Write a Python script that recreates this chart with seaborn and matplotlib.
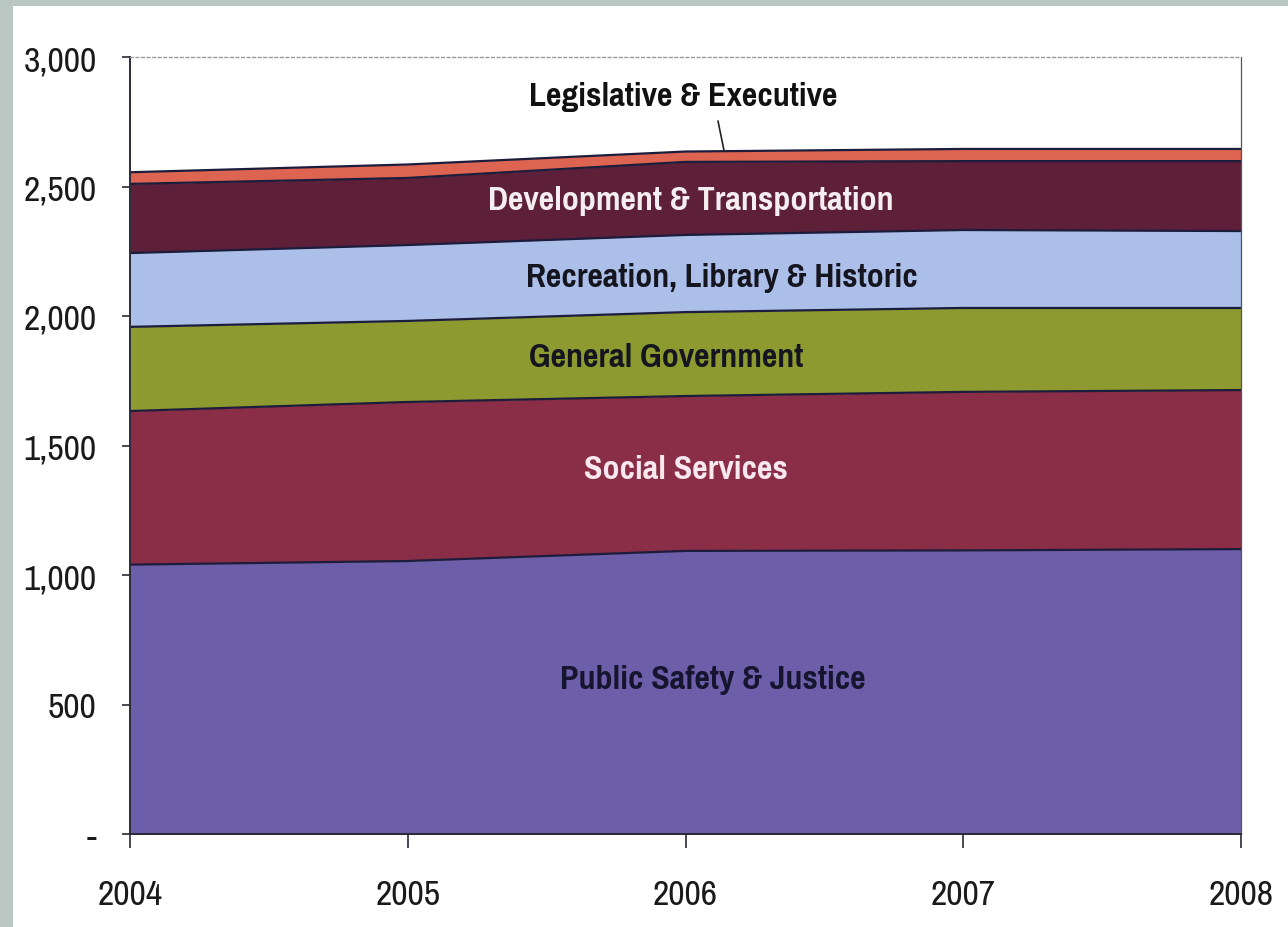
import matplotlib
matplotlib.use("Agg")
import matplotlib.pyplot as plt
import matplotlib.patches as mpatches
from matplotlib import font_manager as fm
from matplotlib.ticker import FuncFormatter
import numpy as np
import pandas as pd
import seaborn as sns

# Annual spending by function (stacked, bottom to top)
years = [2004, 2005, 2006, 2007, 2008]
public_safety = [1040, 1054, 1093, 1095, 1100]
social_services = [593, 614, 598, 612, 614]
general_government = [325, 313, 324, 324, 317]
recreation = [285, 293, 298, 301, 297]
development = [267, 259, 282, 266, 270]
legislative = [45, 52, 40, 47, 47]

categories = [
    "Public Safety & Justice",
    "Social Services",
    "General Government",
    "Recreation, Library & Historic",
    "Development & Transportation",
    "Legislative & Executive",
]
series = [public_safety, social_services, general_government,
          recreation, development, legislative]
colors = ["#6c5ea8", "#8a2d46", "#8c9a30", "#abbfe8", "#5e2039", "#dc6450"]

y_ticks = [0, 500, 1000, 1500, 2000, 2500, 3000]

# pick a narrow sans family, similar to Arial Narrow
narrow_candidates = ["Liberation Sans Narrow", "Arial Narrow", "Pragati Narrow",
                     "Roboto Condensed", "PT Sans Narrow", "Archivo Narrow",
                     "Open Sans Condensed", "Fira Sans Condensed",
                     "IBM Plex Sans Condensed", "Asap Condensed",
                     "Encode Sans Condensed", "Sofia Sans Condensed"]
entries = fm.fontManager.ttflist
font_family = "Liberation Sans"
for cand in narrow_candidates:
    found = [f for f in entries if f.name == cand]
    if found and any(f.weight in (600, 700, "bold", "semibold") for f in found):
        font_family = cand
        break
narrow = font_family != "Liberation Sans"

sns.set_theme(style="white")
plt.rcParams["font.family"] = [font_family, "DejaVu Sans"]

tick_size = 28 if narrow else 21
label_size = 26.5 if narrow else 20

df = pd.DataFrame({c: v for c, v in zip(categories, series)}, index=years)
cum = df.cumsum(axis=1)

fig = plt.figure(figsize=(12.88, 9.28), dpi=100)
fig.patch.set_facecolor("#b9c6c2")
# white page area inside the grey border
fig.add_artist(mpatches.Rectangle((13 / 1288, 0), 1 - 13 / 1288, 1 - 7 / 928,
                                  transform=fig.transFigure, facecolor="white",
                                  edgecolor="none", zorder=0))
ax = fig.add_axes([130 / 1288, 1 - 835 / 928, 1111 / 1288, 777 / 928])
ax.set_facecolor("none")

lower = np.zeros(len(years))
for cat, col in zip(categories, colors):
    upper = cum[cat].to_numpy()
    ax.fill_between(years, lower, upper, color=col, linewidth=0, zorder=1)
    lower = upper

# outline each band boundary
bounds = cum.reset_index().melt(id_vars="index", var_name="band", value_name="value")
sns.lineplot(data=bounds, x="index", y="value", units="band", estimator=None,
             color="#1c1c3c", linewidth=1.6, ax=ax, legend=False, zorder=2)

ax.set_xlim(2004, 2008)
ax.set_ylim(0, 3000)
ax.set_xticks(years)
ax.set_xticklabels([str(y) for y in years])
ax.set_yticks(y_ticks)
ax.yaxis.set_major_formatter(FuncFormatter(lambda v, p: "-" if v == 0 else f"{int(v):,}"))
ax.set_xlabel("")
ax.set_ylabel("")

for side in ["left", "bottom"]:
    ax.spines[side].set_color("#2a2a3a")
    ax.spines[side].set_linewidth(1.4)
ax.spines["right"].set_color("#555555")
ax.spines["right"].set_linewidth(0.9)
ax.spines["top"].set_color("#9a9a9a")
ax.spines["top"].set_linewidth(1.0)
ax.spines["top"].set_linestyle((0, (2, 2)))

ax.tick_params(axis="y", which="major", direction="out", length=6, width=1.2,
               color="#2a2a3a", labelsize=tick_size, pad=18, left=True)
ax.tick_params(axis="x", which="major", direction="out", length=10, width=1.2,
               color="#2a2a3a", labelsize=tick_size, pad=22, bottom=True)
for lab in ax.get_xticklabels() + ax.get_yticklabels():
    lab.set_color("#1a1a1a")

label_style = dict(ha="center", va="center", fontsize=label_size, fontweight="bold", zorder=4)
ax.text(2005.99, 2849, "Legislative & Executive", color="#111111", **label_style)
ax.plot([2006.117, 2006.139], [2753, 2637], color="#222222", linewidth=1.2, zorder=3)
ax.text(2006.02, 2448, "Development & Transportation", color="#f4eef0", **label_style)
ax.text(2006.13, 2151, "Recreation, Library & Historic", color="#151520", **label_style)
ax.text(2005.93, 1842, "General Government", color="#151520", **label_style)
ax.text(2006.00, 1409, "Social Services", color="#f6e8ee", **label_style)
ax.text(2006.10, 598, "Public Safety & Justice", color="#151530", **label_style)

fig.savefig("out.png", dpi=100, facecolor=fig.get_facecolor())
